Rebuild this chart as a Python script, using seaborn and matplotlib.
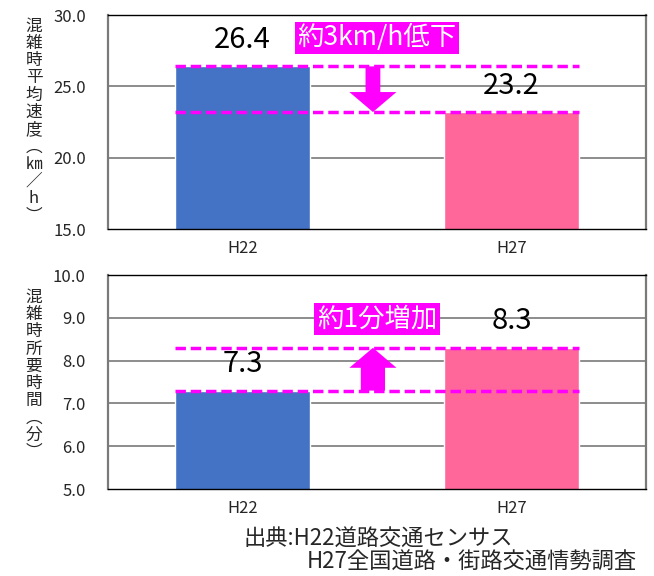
import matplotlib
matplotlib.use("Agg")
import matplotlib.pyplot as plt
import seaborn as sns
import pandas as pd
from matplotlib.patches import FancyArrow

# Survey years and measurements
years = ["H22", "H27"]
speed_kmh = [26.4, 23.2]      # average speed during congestion
travel_min = [7.3, 8.3]       # travel time during congestion
speed_note = "約3km/h低下"
time_note = "約1分増加"
speed_ylabel = ["混", "雑", "時", "平", "均", "速", "度", "︵", "㎞", "／", "h", "︶"]
time_ylabel = ["混", "雑", "時", "所", "要", "時", "間", "︵", "分", "︶"]
source_lines = ["出典:H22道路交通センサス", "H27全国道路・街路交通情勢調査"]

BLUE = "#4472C4"
PINK = "#FF6699"
MAGENTA = "#FF00FF"

sns.set_style("white")
plt.rcParams["font.family"] = ["Noto Sans CJK JP", "DejaVu Sans"]
plt.rcParams["lines.scale_dashes"] = False

fig = plt.figure(figsize=(6.54, 5.76), dpi=100)
ax_top = fig.add_axes([0.1651, 0.6024, 0.8226, 0.3715])
ax_bot = fig.add_axes([0.1651, 0.1510, 0.8226, 0.3715])

df_speed = pd.DataFrame({"year": years, "value": speed_kmh})
df_time = pd.DataFrame({"year": years, "value": travel_min})


def draw_panel(ax, df, ylim, yticks):
    sns.barplot(data=df, x="year", y="value", hue="year",
                palette=[BLUE, PINK], width=0.5, saturation=1,
                legend=False, ax=ax, zorder=2)
    ax.set_xlim(-0.5, 1.5)
    ax.set_ylim(*ylim)
    ax.set_yticks(yticks)
    ax.set_yticklabels([f"{t:.1f}" for t in yticks], fontsize=12)
    ax.tick_params(axis="y", length=0, pad=16)
    ax.tick_params(axis="x", length=0, pad=8, labelsize=12)
    ax.set_xlabel("")
    ax.set_ylabel("")
    for t in yticks[1:-1]:
        ax.axhline(t, color="#6e6e6e", lw=1.1, zorder=1)
    for side in ("top", "bottom"):
        ax.spines[side].set_color("black")
        ax.spines[side].set_linewidth(1.0)
    for side in ("left", "right"):
        ax.spines[side].set_color("#7a7a7a")
        ax.spines[side].set_linewidth(1.6)
    # value labels above each bar
    for i, v in enumerate(df["value"]):
        ax.annotate(f"{v:.1f}", xy=(i, v), xytext=(0, 19),
                    textcoords="offset points", ha="center", va="center",
                    fontsize=21, color="black", zorder=5)
    # dashed reference lines at both values
    for v in df["value"]:
        ax.plot([-0.25, 1.25], [v, v], color=MAGENTA, lw=2.5,
                linestyle=(0, (7.5, 3.5)), zorder=4, solid_capstyle="butt")


draw_panel(ax_top, df_speed, (15, 30), [15, 20, 25, 30])
draw_panel(ax_bot, df_time, (5, 10), [5, 6, 7, 8, 9, 10])

# change arrows
x_arrow = 0.485
head_top = 20 / 214 * 15
ax_top.add_patch(FancyArrow(x_arrow, speed_kmh[0], 0, speed_kmh[1] - speed_kmh[0],
                            width=0.055, head_width=0.175, head_length=head_top,
                            length_includes_head=True, color=MAGENTA, lw=0, zorder=3))
head_bot = 20 / 214 * 5
ax_bot.add_patch(FancyArrow(x_arrow, travel_min[0], 0, travel_min[1] - travel_min[0],
                            width=0.09, head_width=0.175, head_length=head_bot,
                            length_includes_head=True, color=MAGENTA, lw=0, zorder=3))

# change notes
ax_top.text(0.5, 28.4, speed_note, ha="center", va="center", fontsize=19,
            color="white", zorder=6,
            bbox=dict(boxstyle="square,pad=0.1", fc=MAGENTA, ec="none"))
ax_bot.text(0.5, 8.97, time_note, ha="center", va="center", fontsize=19,
            color="white", zorder=6,
            bbox=dict(boxstyle="square,pad=0.1", fc=MAGENTA, ec="none"))

# stacked vertical axis titles
fig.text(0.052, 0.79, "\n".join(speed_ylabel), ha="center", va="center",
         fontsize=12, linespacing=1.02)
fig.text(0.052, 0.349, "\n".join(time_ylabel), ha="center", va="center",
         fontsize=12, linespacing=1.02)

# data source
fig.text(0.372, 0.064, source_lines[0], ha="left", va="center", fontsize=16)
fig.text(0.469, 0.004, source_lines[1], ha="left", va="bottom", fontsize=16)

fig.savefig("out.png", dpi=100)
